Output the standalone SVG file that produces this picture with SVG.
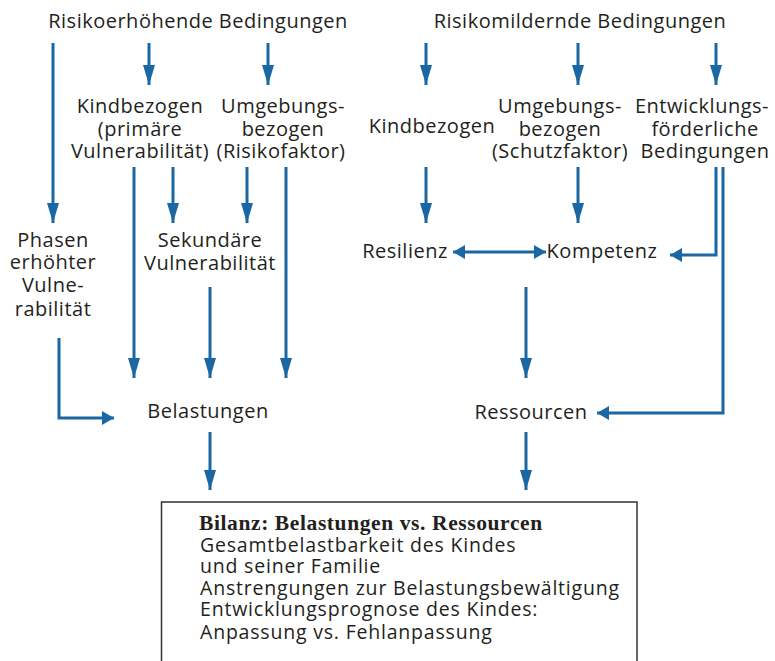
<svg xmlns="http://www.w3.org/2000/svg" width="775" height="661" viewBox="0 0 775 661">
<style>
.t{font-family:"Open Sans","Liberation Sans",sans-serif;font-size:20px;letter-spacing:0.5px;fill:#231f20;text-anchor:middle}
.b{font-family:"Open Sans","Liberation Sans",sans-serif;font-size:19.5px;letter-spacing:0.8px;fill:#231f20}
.s{font-family:"Liberation Serif",serif;font-size:21.5px;letter-spacing:0.6px;font-weight:bold;fill:#231f20}
.c{fill:none;stroke:#1b67a3;stroke-width:3}
.v{marker-end:url(#av)}
.h{marker-end:url(#ah)}
</style>
<defs>
<marker id="av" markerUnits="userSpaceOnUse" markerWidth="22" markerHeight="14" viewBox="0 -7 22 14" refX="20" refY="0" orient="auto">
<path d="M0,-6 L20,0 L0,6 Z" fill="#1b67a3"/>
</marker>
<marker id="ah" markerUnits="userSpaceOnUse" markerWidth="14" markerHeight="16" viewBox="0 -8 14 16" refX="12" refY="0" orient="auto">
<path d="M0,-7 L12,0 L0,7 Z" fill="#1b67a3"/>
</marker>
<marker id="as" markerUnits="userSpaceOnUse" markerWidth="14" markerHeight="16" viewBox="0 -8 14 16" refX="12" refY="0" orient="auto-start-reverse">
<path d="M0,-7 L12,0 L0,7 Z" fill="#1b67a3"/>
</marker>
</defs>
<g id="risikoerhoehend"><text class="t" x="198" y="28">Risikoerhöhende Bedingungen</text></g>
<g id="risikomildernd"><text class="t" x="580" y="28">Risikomildernde Bedingungen</text></g>
<g id="kindbezogen-l"><text class="t" x="140"><tspan x="140" y="113">Kindbezogen</tspan><tspan x="140" y="136">(primäre</tspan><tspan x="140" y="158">Vulnerabilität)</tspan></text></g>
<g id="umgebung-l"><text class="t" x="282"><tspan x="283" y="113">Umgebungs-</tspan><tspan x="283" y="136">bezogen</tspan><tspan x="281" y="158">(Risikofaktor)</tspan></text></g>
<g id="kindbezogen-r"><text class="t" x="432" y="133">Kindbezogen</text></g>
<g id="umgebung-r"><text class="t" x="560"><tspan x="560" y="113">Umgebungs-</tspan><tspan x="560" y="136">bezogen</tspan><tspan x="560" y="158">(Schutzfaktor)</tspan></text></g>
<g id="entwicklung"><text class="t" x="704"><tspan x="702" y="113">Entwicklungs-</tspan><tspan x="705" y="136">förderliche</tspan><tspan x="705" y="158">Bedingungen</tspan></text></g>
<g id="phasen"><text class="t" x="53"><tspan x="53" y="247">Phasen</tspan><tspan x="53" y="269">erhöhter</tspan><tspan x="53" y="292">Vulne-</tspan><tspan x="53" y="316">rabilität</tspan></text></g>
<g id="sekundaer"><text class="t" x="210"><tspan x="210" y="247">Sekundäre</tspan><tspan x="210" y="270">Vulnerabilität</tspan></text></g>
<g id="resilienz"><text class="t" x="405" y="258">Resilienz</text></g>
<g id="kompetenz"><text class="t" x="602" y="258">Kompetenz</text></g>
<g id="belastungen"><text class="t" x="208" y="418">Belastungen</text></g>
<g id="ressourcen"><text class="t" x="531" y="419">Ressourcen</text></g>
<g id="bilanz">
<rect x="161.5" y="502" width="475.5" height="170" fill="#fff" stroke="#333" stroke-width="1.5"/>
<text class="s" x="199" y="530">Bilanz: Belastungen vs. Ressourcen</text>
<text class="b"><tspan x="200" y="552">Gesamtbelastbarkeit des Kindes</tspan><tspan x="200" y="573">und seiner Familie</tspan><tspan x="200" y="595">Anstrengungen zur Belastungsbewältigung</tspan><tspan x="200" y="616">Entwicklungsprognose des Kindes:</tspan><tspan x="200" y="639">Anpassung vs. Fehlanpassung</tspan></text>
</g>
<g id="connectors">
<path class="c v" d="M53,43 V223"/>
<path class="c v" d="M149,43 V85"/>
<path class="c v" d="M268,43 V85"/>
<path class="c v" d="M426,43 V85"/>
<path class="c v" d="M578,43 V85"/>
<path class="c v" d="M716,43 V85"/>
<path class="c v" d="M134,167 V378"/>
<path class="c v" d="M173,167 V223"/>
<path class="c v" d="M247,167 V223"/>
<path class="c v" d="M286,167 V378"/>
<path class="c v" d="M426,167 V223"/>
<path class="c v" d="M578,167 V223"/>
<path class="c h" d="M716,167 V255 H670"/>
<path class="c h" d="M723,167 V413 H597"/>
<path class="c h" style="marker-start:url(#as)" d="M453,252 H546"/>
<path class="c h" d="M59,338 V418 H114"/>
<path class="c v" d="M210,287 V378"/>
<path class="c v" d="M526,287 V378"/>
<path class="c v" d="M210,432 V490"/>
<path class="c v" d="M526,432 V490"/>
</g>
</svg>
